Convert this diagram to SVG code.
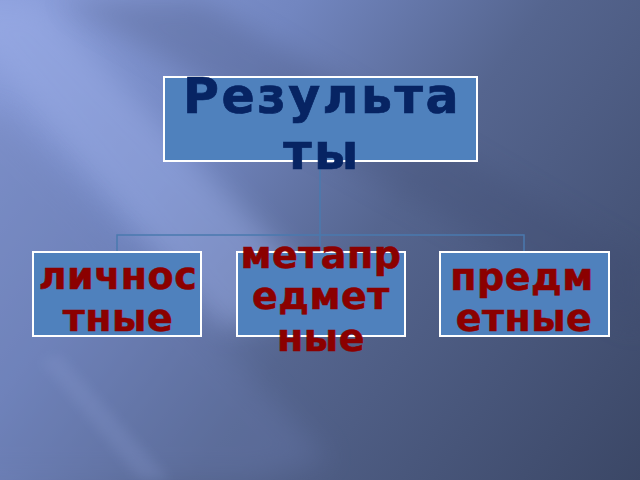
<svg xmlns="http://www.w3.org/2000/svg" width="640" height="480" viewBox="0 0 640 480">
<defs>
<linearGradient id="bg" x1="0" y1="0" x2="640" y2="480" gradientUnits="userSpaceOnUse">
<stop offset="0" stop-color="#8c9fdc"/>
<stop offset="0.3" stop-color="#7286c0"/>
<stop offset="0.55" stop-color="#55658f"/>
<stop offset="1" stop-color="#3b4766"/>
</linearGradient>
<filter id="blur" x="-20%" y="-20%" width="140%" height="140%"><feGaussianBlur stdDeviation="14"/></filter>
<filter id="blur2" x="-20%" y="-20%" width="140%" height="140%"><feGaussianBlur stdDeviation="6"/></filter>
<style>
.box{fill:#4f81bd;stroke:#ffffff;stroke-width:2}
.conn{fill:none;stroke:#4a79ae;stroke-width:1.5}
.top{font-family:"DejaVu Sans",sans-serif;font-weight:bold;font-size:49px;fill:#072463;stroke:#072463;stroke-width:0.7;text-anchor:middle;letter-spacing:2.5px}
.sub{font-family:"DejaVu Sans",sans-serif;font-weight:bold;font-size:38px;fill:#8b0000;stroke:#8b0000;stroke-width:0.6;text-anchor:middle;letter-spacing:0.5px}
</style>
</defs>
<g id="background">
<rect width="640" height="480" fill="url(#bg)"/>
<polygon points="-60,0 40,0 330,300 220,330" fill="#9fb1ea" opacity="0.45" filter="url(#blur)"/>
<polygon points="-60,120 0,110 330,460 260,480 -60,480" fill="#6b7cb0" opacity="0.35" filter="url(#blur)"/>
<polygon points="40,360 60,355 170,480 140,480" fill="#8a9bd0" opacity="0.25" filter="url(#blur2)"/>
<polygon points="60,0 200,0 640,260 640,330" fill="#3d4a6e" opacity="0.25" filter="url(#blur)"/>
</g>
<g id="connectors">
<path class="conn" d="M320,161 V252 M117,252 V235 H524 V252"/>
</g>
<g id="node-results">
<rect class="box" x="164" y="77" width="313" height="84"/>
<text class="top" x="322" y="113">Результа</text>
<text class="top" x="322" y="169">ты</text>
</g>
<g id="node-personal">
<rect class="box" x="33" y="252" width="168" height="84"/>
<text class="sub" x="118" y="289">личнос</text>
<text class="sub" x="118" y="331">тные</text>
</g>
<g id="node-meta">
<rect class="box" x="237" y="252" width="168" height="84"/>
<text class="sub" x="321" y="268">метапр</text>
<text class="sub" x="321" y="309">едмет</text>
<text class="sub" x="321" y="351">ные</text>
</g>
<g id="node-subject">
<rect class="box" x="440" y="252" width="169" height="84"/>
<text class="sub" x="522" y="290">предм</text>
<text class="sub" x="524" y="331">етные</text>
</g>
</svg>
